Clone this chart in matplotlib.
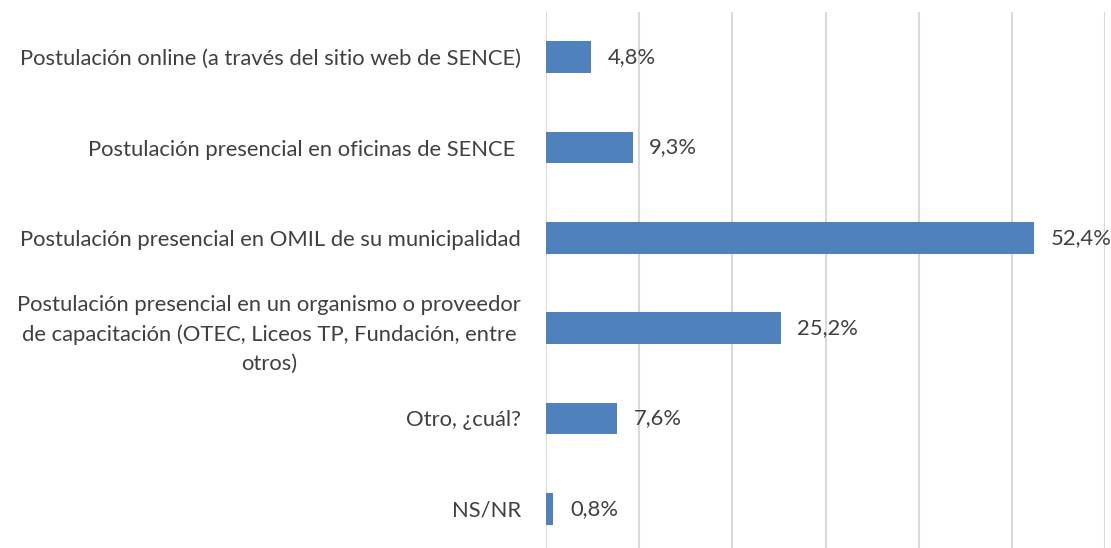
import matplotlib.pyplot as plt
from matplotlib.ticker import MultipleLocator

plt.rcParams['font.family'] = ['Lato', 'DejaVu Sans']

categories = [
    "Postulación online (a través del sitio web de SENCE)",
    "Postulación presencial en oficinas de SENCE ",
    "Postulación presencial en OMIL de su municipalidad",
    "Postulación presencial en un organismo o proveedor\nde capacitación (OTEC, Liceos TP, Fundación, entre\notros)",
    "Otro, ¿cuál?",
    "NS/NR",
]
values = [4.8, 9.3, 52.4, 25.2, 7.6, 0.8]
value_labels = ["4,8%", "9,3%", "52,4%", "25,2%", "7,6%", "0,8%"]

text_color = "#404040"
bar_color = "#4f81bd"
fs = 15.8

fig = plt.figure(figsize=(11.11, 5.48), dpi=100)
ax = fig.add_axes([546 / 1111, -6 / 548, (1105 - 546) / 1111, 542 / 548])

ypos = list(range(len(categories)))
ax.barh(ypos, values, height=0.35, color=bar_color, zorder=3)
ax.set_ylim(len(categories) - 0.5, -0.5)
ax.set_xlim(0, 60)
ax.xaxis.set_major_locator(MultipleLocator(10))
ax.grid(axis="x", color="#d9d9d9", linewidth=1.5, zorder=0)
ax.set_xticklabels([])
ax.tick_params(axis="x", length=0)

ax.set_yticks(ypos)
ax.set_yticklabels(categories, fontsize=fs, color=text_color, linespacing=1.55)
for lbl in ax.get_yticklabels():
    lbl.set_multialignment("center")
ax.tick_params(axis="y", length=0, pad=18)

for s in ["top", "right", "bottom", "left"]:
    ax.spines[s].set_visible(False)

for y, v, t in zip(ypos, values, value_labels):
    ax.annotate(t, (v, y), xytext=(12, 0), textcoords="offset points",
                va="center", ha="left", fontsize=fs, color=text_color)

fig.savefig("out.png", dpi=100)
